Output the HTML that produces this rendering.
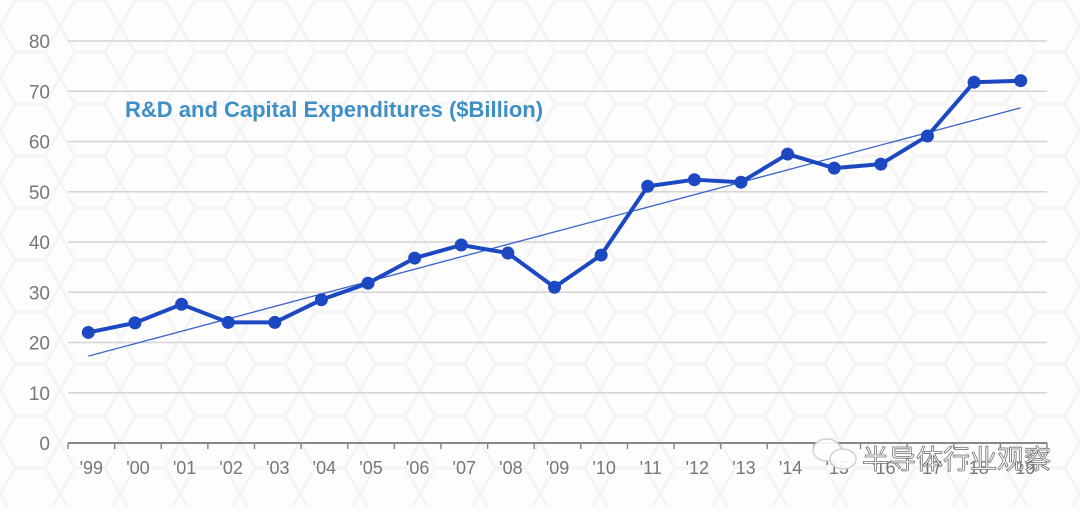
<!DOCTYPE html>
<html><head><meta charset="utf-8"><style>
body{margin:0;width:1080px;height:506px;overflow:hidden;background:#fdfdfd;font-family:"Liberation Sans","Noto Sans CJK SC",sans-serif}
</style></head><body>
<svg id="chart" width="1080" height="506" xmlns="http://www.w3.org/2000/svg">
<defs><pattern id="hex" width="60" height="52" patternUnits="userSpaceOnUse">
<path d="M15 0 L45 0 L60 26 L45 52 L15 52 L0 26 Z" fill="none" stroke="#f4f4f4" stroke-width="3"/></pattern></defs>
<rect width="1080" height="506" fill="url(#hex)"/>
<g id="grid"></g><g id="axes"></g><g id="series"></g>
<text x="125" y="117" font-size="22" font-weight="bold" fill="#3f8fc7">R&amp;D and Capital Expenditures ($Billion)</text>
<g opacity="0.9">
<ellipse cx="827" cy="450" rx="14" ry="11" fill="#fff" stroke="#ccc" stroke-width="1.5"/>
<ellipse cx="843" cy="459" rx="13" ry="10" fill="#fff" stroke="#ccc" stroke-width="1.5"/>
<text x="862" y="469" font-size="27" fill="#fff" stroke="#666" stroke-width="0.8" font-family="'Noto Sans CJK SC',sans-serif">半导体行业观察</text>
</g>
</svg>
<script>
const categories=["'99","'00","'01","'02","'03","'04","'05","'06","'07","'08","'09","'10","'11","'12","'13","'14","'15","'16","'17","'18","'19"];
const values=[22,23.9,27.6,24,24,28.5,31.8,36.8,39.4,37.8,31,37.4,51.1,52.4,51.9,57.5,54.7,55.5,61.1,71.8,72.1];
const trendStart=[17.3];
const trendEnd=[66.7];
const yTicks=[0,10,20,30,40,50,60,70,80];
const NS="http://www.w3.org/2000/svg";
const x0=68,x1=1047,y0=443,yTop=41,band=(x1-x0)/categories.length;
const X=i=>x0+band*(i+0.5)-3, Y=v=>y0-(v/80)*(y0-yTop);
function mk(t,a,p){const e=document.createElementNS(NS,t);for(const k in a)e.setAttribute(k,a[k]);p.appendChild(e);return e;}
const grid=document.getElementById('grid'),axes=document.getElementById('axes'),ser=document.getElementById('series');
yTicks.forEach(v=>{
 if(v>0){const l=mk('line',{x1:x0,x2:x1,y1:Y(v),y2:Y(v),stroke:'#d4d4d4','stroke-width':1.5},grid);
 
 }
 const t=mk('text',{x:50,y:Y(v)+7,'font-size':19,fill:'#777','text-anchor':'end'},axes);t.textContent=v;
 
 
});
const ax=mk('line',{x1:x0,x2:x1,y1:y0,y2:y0,stroke:'#888','stroke-width':2},axes);


for(let i=0;i<=categories.length;i++){const tk=mk('line',{x1:x0+band*i,x2:x0+band*i,y1:y0,y2:y0+6,stroke:'#888','stroke-width':1.5},axes);
 
 }
categories.forEach((c,i)=>{const t=mk('text',{x:x0+band*(i+0.5),y:474,'font-size':18,fill:'#777','text-anchor':'middle'},axes);t.textContent=c;
 
 });
const tr=mk('line',{x1:X(0),y1:Y(trendStart[0]),x2:X(categories.length-1),y2:Y(trendEnd[0]),stroke:'#3b63c9','stroke-width':1.3},ser);


const pl=mk('polyline',{points:values.map((v,i)=>X(i)+','+Y(v)).join(' '),fill:'none',stroke:'#1c49c2','stroke-width':4,'stroke-linejoin':'round'},ser);


values.forEach((v,i)=>{const c=mk('circle',{cx:X(i),cy:Y(v),r:6.5,fill:'#1c49c2'},ser);
 
 });
</script>
</body></html>
